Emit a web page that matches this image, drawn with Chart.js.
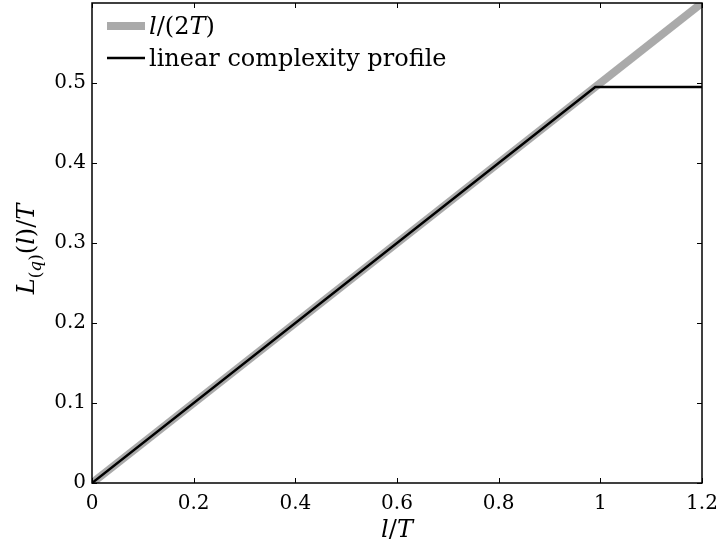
<!DOCTYPE html>
<html>
<head>
<meta charset="utf-8">
<script src="https://cdn.jsdelivr.net/npm/chart.js@4"></script>
<style>
html,body{margin:0;padding:0;background:#fff;}
canvas{display:block;}
</style>
</head>
<body>
<canvas id="c" width="719" height="550"></canvas>
<script>
// ---- data ----
const xTickValues = [0, 0.2, 0.4, 0.6, 0.8, 1, 1.2];
const xTickLabels = ['0', '0.2', '0.4', '0.6', '0.8', '1', '1.2'];
const yTickValues = [0, 0.1, 0.2, 0.3, 0.4, 0.5];
const yTickLabels = ['0', '0.1', '0.2', '0.3', '0.4', '0.5'];
const refX = [0, 1.2];           // l/(2T)
const refY = [0, 0.6];
const lcpX = [0, 0.99, 1.2];     // linear complexity profile
const lcpY = [0, 0.495, 0.495];
const xMin = 0, xMax = 1.2, yMin = 0, yMax = 0.6;

const FONT = '"DejaVu Serif", "Liberation Serif", serif';
const GRAY = '#aaaaaa';

function pts(xs, ys) { return xs.map((x, i) => ({x: x, y: ys[i]})); }

// draw a sequence of text runs {t, i(talic), s(ize), dy}
function drawRuns(ctx, runs, x, y, align) {
  let total = 0;
  runs.forEach(r => {
    ctx.font = (r.i ? 'italic ' : '') + r.s + 'px ' + FONT;
    r.w = ctx.measureText(r.t).width;
    total += r.w;
  });
  let cx = align === 'center' ? x - total / 2 : x;
  ctx.textAlign = 'left';
  ctx.textBaseline = 'alphabetic';
  runs.forEach(r => {
    ctx.font = (r.i ? 'italic ' : '') + r.s + 'px ' + FONT;
    ctx.fillText(r.t, cx, y + (r.dy || 0));
    cx += r.w;
  });
}

function noPad(s) {
  s.paddingLeft = 0; s.paddingRight = 0; s.paddingTop = 0; s.paddingBottom = 0;
}

const decor = {
  id: 'decor',
  afterDatasetsDraw(chart) {
    const ctx = chart.ctx;
    const a = chart.chartArea;
    const xs = chart.scales.x, ys = chart.scales.y;
    ctx.save();
    ctx.strokeStyle = '#000';
    ctx.fillStyle = '#000';
    // frame
    ctx.lineWidth = 1.5;
    ctx.strokeRect(a.left, a.top, a.right - a.left, a.bottom - a.top);
    // inward ticks
    ctx.lineWidth = 1;
    const tl = 5;
    ctx.beginPath();
    xTickValues.forEach(v => {
      const px = Math.round(xs.getPixelForValue(v)) + 0.5;
      ctx.moveTo(px, a.bottom); ctx.lineTo(px, a.bottom - tl);
      ctx.moveTo(px, a.top); ctx.lineTo(px, a.top + tl);
    });
    yTickValues.forEach(v => {
      const py = Math.round(ys.getPixelForValue(v)) + 0.5;
      ctx.moveTo(a.left, py); ctx.lineTo(a.left + tl, py);
      ctx.moveTo(a.right, py); ctx.lineTo(a.right - tl, py);
    });
    ctx.stroke();

    // legend
    const ds = chart.data.datasets;
    const lx0 = a.left + 15, lx1 = a.left + 53;
    // row 1 : gray
    ctx.strokeStyle = ds[1].borderColor;
    ctx.lineWidth = ds[1].borderWidth;
    ctx.beginPath(); ctx.moveTo(lx0, 26); ctx.lineTo(lx1, 26); ctx.stroke();
    drawRuns(ctx, [
      {t: 'l', i: true, s: 24}, {t: '/', s: 24}, {t: '(2', s: 24},
      {t: 'T', i: true, s: 24}, {t: ')', s: 24}
    ], lx1 + 4, 34);
    // row 2 : black
    ctx.strokeStyle = ds[0].borderColor;
    ctx.lineWidth = ds[0].borderWidth;
    ctx.beginPath(); ctx.moveTo(lx0, 58); ctx.lineTo(lx1, 58); ctx.stroke();
    drawRuns(ctx, [{t: ds[0].label, s: 24}], lx1 + 4, 66);

    // x axis title
    drawRuns(ctx, [
      {t: 'l', i: true, s: 24}, {t: '/', s: 24}, {t: 'T', i: true, s: 24}
    ], (a.left + a.right) / 2, 537, 'center');

    // y axis title (rotated)
    ctx.save();
    ctx.translate(34, (a.top + a.bottom) / 2 + 6);
    ctx.rotate(-Math.PI / 2);
    drawRuns(ctx, [
      {t: 'L', i: true, s: 24},
      {t: '(', s: 17, dy: 7}, {t: 'q', i: true, s: 17, dy: 7}, {t: ')', s: 17, dy: 7},
      {t: '(', s: 24}, {t: 'l', i: true, s: 24}, {t: ')/', s: 24}, {t: 'T', i: true, s: 24}
    ], 0, 0, 'center');
    ctx.restore();

    ctx.restore();
  }
};

new Chart(document.getElementById('c'), {
  type: 'line',
  data: {
    datasets: [
      {
        label: 'linear complexity profile',
        data: pts(lcpX, lcpY),
        borderColor: '#000000',
        borderWidth: 2.5,
        pointRadius: 0,
        tension: 0,
        fill: false
      },
      {
        label: 'l/(2T)',
        data: pts(refX, refY),
        borderColor: GRAY,
        borderWidth: 8,
        pointRadius: 0,
        tension: 0,
        fill: false
      }
    ]
  },
  options: {
    responsive: false,
    animation: false,
    devicePixelRatio: 1,
    layout: {padding: {left: 0, right: 17, top: 3, bottom: 0}},
    plugins: {legend: {display: false}, tooltip: {enabled: false}, title: {display: false}},
    scales: {
      x: {
        type: 'linear',
        min: xMin, max: xMax,
        grid: {display: false, drawTicks: false},
        border: {display: false},
        afterBuildTicks: s => { s.ticks = xTickValues.map(v => ({value: v})); },
        afterFit: s => { s.height = 67; noPad(s); },
        ticks: {
          autoSkip: false,
          maxRotation: 0,
          padding: 9,
          color: '#000',
          font: {family: FONT, size: 20},
          callback: (v, i) => xTickLabels[i]
        }
      },
      y: {
        type: 'linear',
        min: yMin, max: yMax,
        grid: {display: false, drawTicks: false},
        border: {display: false},
        afterBuildTicks: s => { s.ticks = yTickValues.map(v => ({value: v})); },
        afterFit: s => { s.width = 92; noPad(s); },
        ticks: {
          autoSkip: false,
          padding: 6,
          color: '#000',
          font: {family: FONT, size: 20},
          callback: (v, i) => yTickLabels[i]
        }
      }
    }
  },
  plugins: [decor]
});
</script>
</body>
</html>
